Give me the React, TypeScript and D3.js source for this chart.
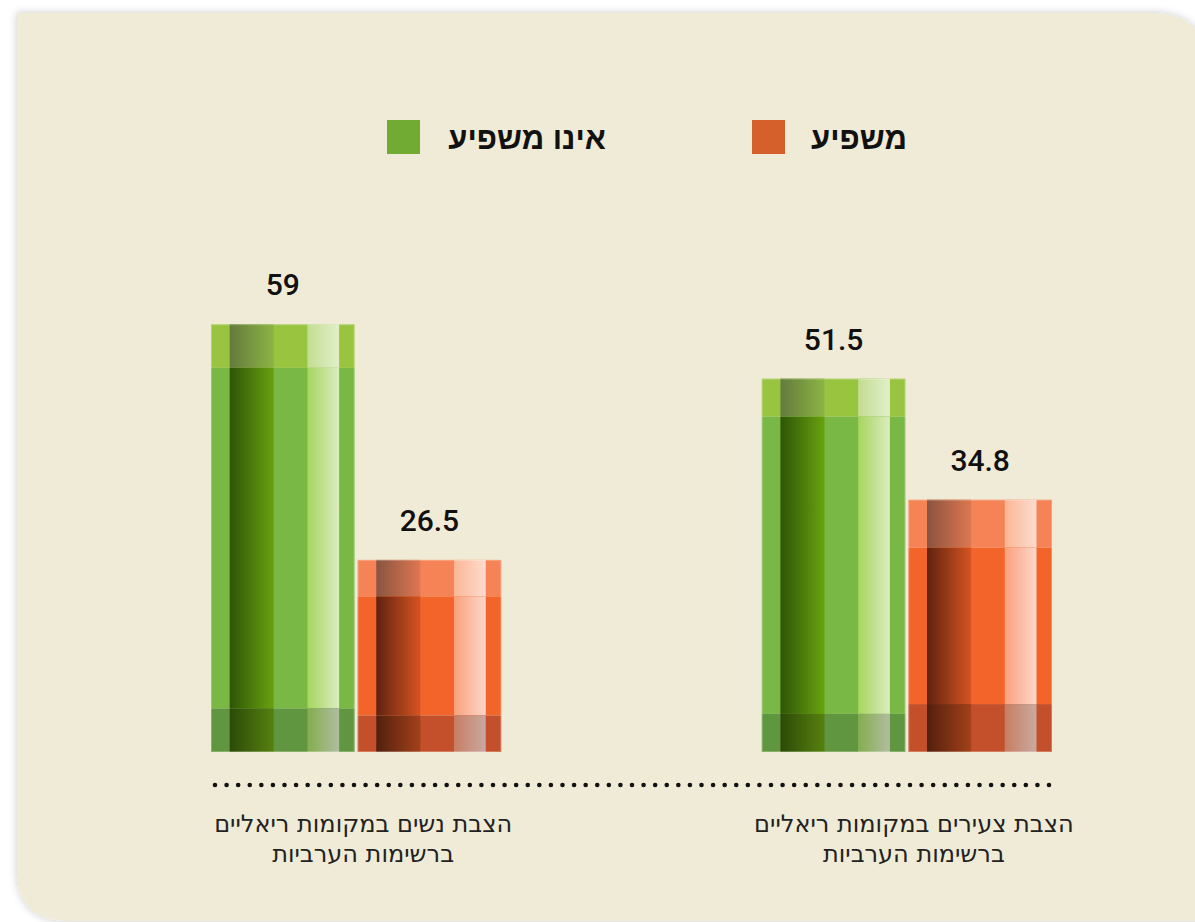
import React from 'react';
import * as d3 from 'd3';

// data
const categories = ['women', 'young'];
const categoryLabels = [
  ['הצבת נשים במקומות ריאליים', 'ברשימות הערביות'],
  ['הצבת צעירים במקומות ריאליים', 'ברשימות הערביות'],
];
const seriesKeys = ['notInfluencing', 'influencing'];
const seriesNames = ['אינו משפיע', 'משפיע'];
const notInfluencing = [59, 51.5];
const influencing = [26.5, 34.8];
const valueLabels = [['59', '26.5'], ['51.5', '34.8']];

const W = 1195;
const H = 922;

// band colors: base, dark column gradient, light column gradient
type Band = { base: string; dark: [string, string]; light: [string, string] };
type Look = { top: Band; body: Band; bottom: Band; capFrac: number; legend: string };

const looks: Record<string, Look> = {
  notInfluencing: {
    top: { base: '#98c440', dark: ['#647a3e', '#8cb443'], light: ['#c2dd90', '#e1efca'] },
    body: { base: '#7ab845', dark: ['#2f5507', '#68a20f'], light: ['#a6d55f', '#dcecc0'] },
    bottom: { base: '#5f963f', dark: ['#2c4a08', '#56810f'], light: ['#84ad4f', '#b1bd9f'] },
    capFrac: 0.102,
    legend: '#72ab33',
  },
  influencing: {
    top: { base: '#f58355', dark: ['#8a5441', '#dd7750'], light: ['#fbb696', '#fddccf'] },
    body: { base: '#f26429', dark: ['#5f2310', '#d65421'], light: ['#f9a17c', '#fcd7ca'] },
    bottom: { base: '#c3502a', dark: ['#52200d', '#a3411a'], light: ['#c77e63', '#c9a9a0'] },
    capFrac: 0.19,
    legend: '#d6602b',
  },
};

// columns across a bar (fractions of width)
const cols = [0, 0.13, 0.437, 0.671, 0.892, 1];

const legendPos: Record<string, { sq: number; textEnd: number }> = {
  notInfluencing: { sq: 387, textEnd: 606 },
  influencing: { sq: 752, textEnd: 907 },
};

const BASE = 752;

export default function App() {
  const x0 = d3.scaleBand<string>().domain(categories).range([211, 1052]).paddingInner(0.473).paddingOuter(0);
  const x1 = d3.scaleBand<string>().domain(seriesKeys).range([0, x0.bandwidth()]).paddingInner(0.02);
  const y = d3.scaleLinear().domain([0, 60]).range([BASE, BASE - 60 * 7.25]);

  const valuesFor = (key: string) => (key === 'notInfluencing' ? notInfluencing : influencing);

  const cardPath = (() => {
    const l = 17, t = 13, r = 1207, b = 921, rtr = 56, rbl = 52;
    return `M${l},${t} L${r - rtr},${t} Q${r},${t} ${r},${t + rtr} L${r},${b} L${l + rbl},${b} Q${l},${b} ${l},${b - rbl} Z`;
  })();

  const gradId = (k: string, band: string, part: string) => `g-${k}-${band}-${part}`;
  const dotStart = x0.range()[0] + 4;
  const dotEnd = 1049;

  return (
    <svg
      width={W}
      height={H}
      style={{ position: 'absolute', left: 0, top: 0, background: '#ffffff' }}
    >
      <defs>
        <filter id="shadow" x="-5%" y="-5%" width="110%" height="110%">
          <feDropShadow dx="0" dy="0" stdDeviation="4" floodColor="#000" floodOpacity="0.22" />
        </filter>
        {seriesKeys.map((k) =>
          (['top', 'body', 'bottom'] as const).map((band) =>
            (['dark', 'light'] as const).map((part) => (
              <linearGradient key={gradId(k, band, part)} id={gradId(k, band, part)} x1="0" x2="1" y1="0" y2="0">
                <stop offset="0" stopColor={looks[k][band][part][0]} />
                <stop offset="1" stopColor={looks[k][band][part][1]} />
              </linearGradient>
            ))
          )
        )}
      </defs>

      <path d={cardPath} fill="#f0ebd6" filter="url(#shadow)" />

      {/* legend */}
      {seriesKeys.map((k, i) => (
        <g key={k}>
          <rect x={legendPos[k].sq} y={120} width={33} height={34} fill={looks[k].legend} />
          <text
            x={legendPos[k].textEnd}
            y={149}
            textAnchor="end"
            fontFamily="'Liberation Sans', Arial, sans-serif"
            fontWeight="bold"
            fontSize={31}
            fill="#111"
          >
            {seriesNames[i]}
          </text>
        </g>
      ))}

      {/* bars */}
      {categories.map((c, ci) => (
        <g key={c} transform={`translate(${x0(c)},0)`}>
          {seriesKeys.map((k, si) => {
            const v = valuesFor(k)[ci];
            const bx = x1(k) as number;
            const bw = x1.bandwidth();
            const top = y(v);
            const h = BASE - top;
            const cap = h * looks[k].capFrac;
            const bands = [
              { name: 'top' as const, y0: top, y1: top + cap },
              { name: 'body' as const, y0: top + cap, y1: BASE - cap },
              { name: 'bottom' as const, y0: BASE - cap, y1: BASE },
            ];
            return (
              <g key={k}>
                {bands.map((b) => (
                  <g key={b.name}>
                    <rect x={bx} y={b.y0} width={bw} height={b.y1 - b.y0} fill={looks[k][b.name].base} />
                    <rect
                      x={bx + cols[1] * bw}
                      y={b.y0}
                      width={(cols[2] - cols[1]) * bw}
                      height={b.y1 - b.y0}
                      fill={`url(#${gradId(k, b.name, 'dark')})`}
                    />
                    <rect
                      x={bx + cols[3] * bw}
                      y={b.y0}
                      width={(cols[4] - cols[3]) * bw}
                      height={b.y1 - b.y0}
                      fill={`url(#${gradId(k, b.name, 'light')})`}
                    />
                  </g>
                ))}
                <rect x={bx + 0.5} y={top + 0.5} width={bw - 1} height={h - 1} fill="none" stroke="#ffffff" strokeOpacity={0.25} />
                <text
                  x={bx + bw / 2}
                  y={top - 29}
                  textAnchor="middle"
                  fontFamily="Roboto, 'Liberation Sans', sans-serif"
                  fontWeight={500}
                  fontSize={30}
                  fill="#111"
                >
                  {valueLabels[ci][si]}
                </text>
              </g>
            );
          })}
        </g>
      ))}

      {/* dotted baseline */}
      <line
        x1={dotStart}
        x2={dotEnd + 1}
        y1={785}
        y2={785}
        stroke="#111"
        strokeWidth={4.6}
        strokeLinecap="round"
        strokeDasharray={`0 ${(dotEnd - dotStart) / 72}`}
      />

      {/* category labels */}
      {categories.map((c, ci) => {
        const cx = (x0(c) as number) + x0.bandwidth() / 2 + 7;
        return (
          <text
            key={c}
            x={cx}
            y={832}
            textAnchor="middle"
            fontFamily="'DejaVu Sans', 'Liberation Sans', sans-serif"
            fontSize={24}
            fill="#222"
          >
            {categoryLabels[ci].map((line, li) => (
              <tspan key={li} x={cx} dy={li === 0 ? 0 : 30}>
                {line}
              </tspan>
            ))}
          </text>
        );
      })}
    </svg>
  );
}
